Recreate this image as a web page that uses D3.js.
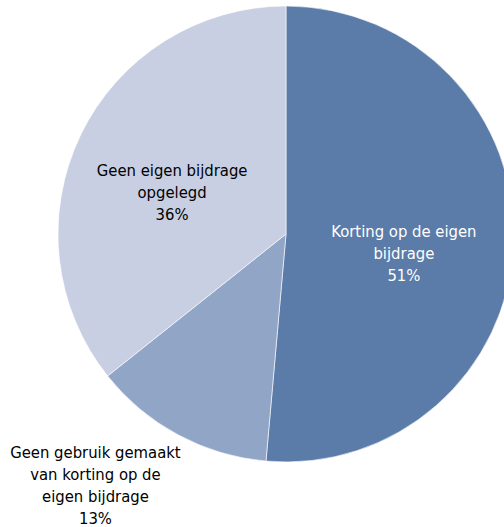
<!DOCTYPE html>
<html><head><meta charset="utf-8">
<script src="https://cdn.jsdelivr.net/npm/d3@7"></script>
<style>html,body{margin:0;padding:0;background:#fff;}</style>
</head><body>
<svg id="chart" width="504" height="527"></svg>
<script>
const categories = ["Korting op de eigen bijdrage", "Geen gebruik gemaakt van korting op de eigen bijdrage", "Geen eigen bijdrage opgelegd"];
const values = [51.4, 12.9, 35.7];
const labelLines = [["Korting op de eigen", "bijdrage"], ["Geen gebruik gemaakt", "van korting op de", "eigen bijdrage"], ["Geen eigen bijdrage", "opgelegd"]];
const colors = ["#5b7ba8", "#91a5c6", "#c8cfe2"];
const textColors = ["#ffffff", "#000000", "#000000"];

const svg = d3.select("#chart");
const cx = 286, cy = 234, r = 228;
const g = svg.append("g").attr("transform", `translate(${cx},${cy})`);
const pie = d3.pie().sort(null).value(d => d);
const arcs = pie(values);
const arc = d3.arc().innerRadius(0).outerRadius(r);
g.selectAll("path").data(arcs).join("path")
  .attr("d", arc).attr("fill", (d, i) => colors[i])
  .attr("stroke", "#ffffff").attr("stroke-width", 0.6);

// label placement: inside for big slices, outside for the small one
const labelRadius = [118, 318, 122];
const nudge = [[0, 14], [-40, -29], [-4, 11]];
const fontSize = 16.5;
const lineH = 22;
arcs.forEach((d, i) => {
  const a = (d.startAngle + d.endAngle) / 2;
  const x = Math.sin(a) * labelRadius[i] + nudge[i][0];
  const y = -Math.cos(a) * labelRadius[i] + nudge[i][1];
  const lines = labelLines[i].concat([Math.round(values[i]) + "%"]);
  const t = g.append("text").attr("text-anchor", "middle")
    .attr("font-family", "'DejaVu Sans Condensed', 'DejaVu Sans', sans-serif")
    .attr("font-stretch", "condensed")
    .attr("font-size", fontSize)
    .attr("fill", textColors[i]);
  const y0 = y - (lines.length - 1) * lineH / 2;
  lines.forEach((s, k) => {
    t.append("tspan").attr("x", x).attr("y", y0 + k * lineH).attr("dy", "0.35em").text(s);
  });
});
</script>
</body></html>
